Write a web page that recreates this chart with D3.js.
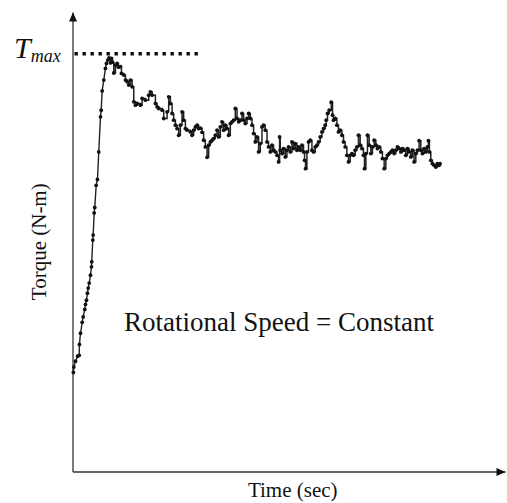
<!DOCTYPE html>
<html>
<head>
<meta charset="utf-8">
<script src="https://cdn.jsdelivr.net/npm/d3@7"></script>
<style>
  html, body { margin: 0; padding: 0; background: #fff; }
  svg { display: block; }
  text { font-family: "Liberation Serif", "Times New Roman", serif; fill: #111; }
</style>
</head>
<body>
<svg id="chart" width="507" height="503"></svg>
<script>
// Torque trace under constant rotational speed (time in s, torque in % of peak)
const time = [0.2,0.3,0.7,1.2,1.55,1.6,1.85,2.24,2.47,2.84,3.0,3.23,3.46,3.63,3.86,4.16,4.39,4.45,4.69,4.78,5.01,5.15,5.47,5.77,6.07,6.47,6.63,6.86,7.23,7.62,7.85,8.15,
  8.43,8.78,9.0,9.24,9.54,9.93,10.32,10.62,11.09,11.32,11.85,12.24,12.63,13.0,13.39,13.79,14.16,14.55,14.94,15.7,16.1,16.86,17.62,18.01,18.41,19.17,19.56,19.93,20.72,21.09,21.87,22.24,22.63,23.03,23.39,23.79,24.18,24.55,24.94,25.33,25.7,26.1,26.49,27.25,27.64,28.01,28.41,28.8,29.17,
  29.56,29.95,30.32,30.72,31.11,31.48,31.87,32.26,32.63,33.03,33.42,33.79,34.18,34.57,34.94,35.33,35.73,36.1,36.49,36.88,37.25,37.64,38.04,38.41,38.8,39.19,39.56,39.95,40.35,40.72,41.11,41.5,41.87,42.26,42.66,43.03,43.42,43.81,44.18,44.57,44.97,45.33,45.73,46.12,46.49,46.88,47.28,47.64,47.88,48.04,48.43,48.8,49.19,49.58,49.95,50.35,50.74,51.11,51.5,51.89,52.26,52.66,53.05,53.42,53.65,53.88,54.2,54.57,54.97,55.36,55.73,56.12,56.51,56.88,57.27,57.67,58.04,58.43,58.66,58.96,59.35,59.82,60.12,60.35,60.74,61.13,61.5,61.89,62.29,62.66,63.05,63.44,63.81,64.2,64.6,64.97,65.36,65.75,66.12,66.51,66.91,67.27,67.51,67.83,68.2,68.59,68.98,69.35,69.75,70.14,70.51,70.9,71.29,71.66,72.06,72.45,72.82,73.21,73.6,73.97,74.36,74.76,75.13,75.52,75.91,76.28,76.67,77.07,77.44,77.83,78.22,78.59,78.98,79.38,79.75,80.14,80.53,80.9,81.29,81.69,82.06,82.29,82.52,82.84,83.21,83.6,84.0,84.36,84.76,84.99];

const torque = [23.7,25.0,26.4,27.6,27.8,30.4,33.1,35.7,37.0,38.8,40.0,41.0,42.7,43.9,45.1,47.0,49.0,50.2,55.4,56.6,61.9,63.2,68.5,69.9,76.5,84.9,86.5,91.1,93.7,96.5,97.7,98.5,
  99.0,97.8,98.9,98.0,95.4,97.3,97.7,96.8,96.9,95.3,94.9,93.7,93.3,92.5,93.7,92.1,88.5,87.7,88.1,87.7,89.3,88.9,90.1,90.9,90.1,88.1,87.3,86.9,86.5,84.5,86.1,89.7,88.1,85.7,84.1,82.9,82.1,80.5,82.9,86.1,84.1,82.1,81.7,81.3,80.5,81.7,82.5,82.9,82.1,
  82.2,81.2,79.3,77.7,75.2,78.1,78.9,79.3,79.7,80.5,81.7,80.1,82.5,83.7,81.7,82.9,82.1,80.5,83.3,83.7,84.1,86.9,84.5,83.7,84.1,85.7,84.1,83.3,84.5,85.7,84.5,82.9,80.9,78.9,80.1,76.5,78.5,82.5,82.9,81.7,78.9,77.7,76.5,78.1,76.9,76.5,75.7,74.1,80.1,76.9,76.1,77.3,75.3,76.9,77.7,76.5,78.9,77.3,78.5,76.9,77.7,76.9,78.1,76.5,74.5,72.5,76.5,78.9,79.3,76.9,76.5,77.7,78.1,78.9,80.1,81.3,82.1,82.9,84.1,85.7,86.5,88.4,85.3,84.1,84.5,82.9,81.3,81.7,80.5,78.9,77.7,75.7,74.1,75.7,76.1,75.7,76.9,77.7,80.5,78.1,77.3,75.7,72.5,76.1,80.5,78.1,76.1,77.7,79.3,78.1,77.3,77.7,76.5,74.9,72.5,74.9,75.7,76.1,76.5,76.9,76.1,76.9,77.7,77.3,76.5,77.3,76.9,75.7,77.3,76.5,75.3,76.9,74.1,76.1,76.9,79.2,76.9,76.1,77.3,76.5,77.7,79.2,76.5,74.5,73.7,73.3,72.9,73.7,73.3,73.7];

const tMax = 100;          // peak torque level
const tMaxLineEnd = 29.3;  // time where the dotted T_max guide stops
const rampEnd = 8.15;      // end of the initial ramp; sampling turns stepwise after it
const timeDomain = [0, 100];
const torqueDomain = [0, 110];

const labels = {
  x: "Time (sec)",
  y: "Torque (N-m)",
  note: "Rotational Speed = Constant",
  tmax: "T",
  tmaxSub: "max"
};

const svg = d3.select("#chart");
const x = d3.scaleLinear().domain(timeDomain).range([72.5, 505]);
const y = d3.scaleLinear().domain(torqueDomain).range([471.5, 12]);

const data = time.map((t, i) => ({ t, v: torque[i] })).filter(d => d.v != null);
const ramp = data.filter(d => d.t <= rampEnd);
const plateau = data.filter(d => d.t >= rampEnd);

// arrowheads for the axes
const defs = svg.append("defs");
defs.append("marker")
  .attr("id", "arrow")
  .attr("viewBox", "0 -5 10 10")
  .attr("refX", 10).attr("refY", 0)
  .attr("markerUnits", "userSpaceOnUse")
  .attr("markerWidth", 10).attr("markerHeight", 9)
  .attr("orient", "auto")
  .append("path")
  .attr("d", "M0,-4.5L10,0L0,4.5Z")
  .attr("fill", "#111");

// axes without ticks, domain line only
const xAxis = svg.append("g")
  .attr("transform", `translate(0,${y(0)})`)
  .call(d3.axisBottom(x).tickValues([]).tickSizeOuter(0));
const yAxis = svg.append("g")
  .attr("transform", `translate(${x(0)},0)`)
  .call(d3.axisLeft(y).tickValues([]).tickSizeOuter(0));

[xAxis, yAxis].forEach(g => {
  g.select(".domain")
    .attr("stroke", "#333")
    .attr("stroke-width", 1.3)
    .attr("marker-end", "url(#arrow)");
});

// dotted T_max guide
svg.append("line")
  .attr("x1", x(0) + 2).attr("x2", x(tMaxLineEnd))
  .attr("y1", y(tMax)).attr("y2", y(tMax))
  .attr("stroke", "#111")
  .attr("stroke-width", 3.4)
  .attr("stroke-dasharray", "3.4,4.6");

// torque trace: straight ramp, then stepwise plateau
const rampLine = d3.line().x(d => x(d.t)).y(d => y(d.v));
const stepLine = d3.line().x(d => x(d.t)).y(d => y(d.v)).curve(d3.curveStepAfter);

svg.append("path")
  .datum(ramp)
  .attr("fill", "none")
  .attr("stroke", "#222")
  .attr("stroke-width", 1.4)
  .attr("d", rampLine);

svg.append("path")
  .datum(plateau)
  .attr("fill", "none")
  .attr("stroke", "#222")
  .attr("stroke-width", 1.5)
  .attr("d", stepLine);

svg.append("g")
  .selectAll("circle")
  .data(data)
  .join("circle")
  .attr("cx", d => x(d.t))
  .attr("cy", d => y(d.v))
  .attr("r", 1.9)
  .attr("fill", "#111");

// T_max label
const tm = svg.append("text")
  .attr("x", 14).attr("y", y(tMax) + 4)
  .attr("font-style", "italic")
  .attr("font-size", 30);
tm.append("tspan").text(labels.tmax);
tm.append("tspan")
  .attr("font-size", 18)
  .attr("dy", 4)
  .text(labels.tmaxSub);

// axis titles
svg.append("text")
  .attr("transform", `translate(46,${(y(0) + y(torqueDomain[1])) / 2})rotate(-90)`)
  .attr("text-anchor", "middle")
  .attr("font-size", 21)
  .text(labels.y);

svg.append("text")
  .attr("x", (x(0) + x(timeDomain[1])) / 2 + 4)
  .attr("y", 497)
  .attr("text-anchor", "middle")
  .attr("font-size", 21)
  .text(labels.x);

// annotation
svg.append("text")
  .attr("x", 124)
  .attr("y", 331)
  .attr("font-size", 27)
  .text(labels.note);
</script>
</body>
</html>
